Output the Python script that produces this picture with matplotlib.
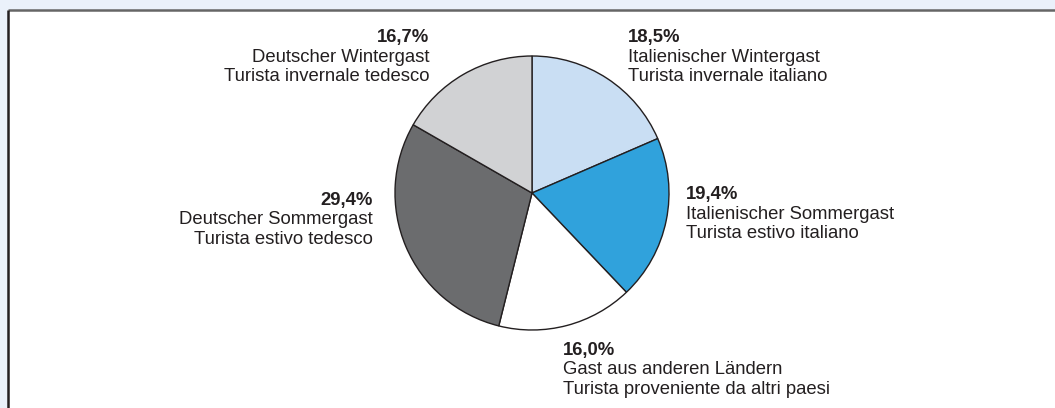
import matplotlib
matplotlib.use("Agg")
import matplotlib.pyplot as plt
from matplotlib.patches import Rectangle

plt.rcParams['font.family'] = ['Liberation Sans', 'DejaVu Sans']

# Data
categories_de = ["Italienischer Wintergast", "Italienischer Sommergast",
                 "Gast aus anderen Ländern", "Deutscher Sommergast",
                 "Deutscher Wintergast"]
categories_it = ["Turista invernale italiano", "Turista estivo italiano",
                 "Turista proveniente da altri paesi", "Turista estivo tedesco",
                 "Turista invernale tedesco"]
values = [18.5, 19.4, 16.0, 29.4, 16.7]
pct_labels = ["18,5%", "19,4%", "16,0%", "29,4%", "16,7%"]
colors = ["#C9DEF3", "#30A2DC", "#FFFFFF", "#6B6C6E", "#D1D2D4"]

W, H = 1055, 408
fig = plt.figure(figsize=(W / 100, H / 100), dpi=100, facecolor="#EAF1FA")
ax = fig.add_axes([0, 0, 1, 1])
ax.set_facecolor("none")

# white panel with border on top and left
ax.add_patch(Rectangle((8, -5), W + 10, H - 5, facecolor="white", edgecolor="none", zorder=0))
ax.plot([8, W + 10], [H - 10, H - 10], color="#666666", lw=1.8, zorder=1,
        solid_capstyle="butt")
ax.plot([8, 8], [-5, H - 10], color="#231F20", lw=1.8, zorder=1,
        solid_capstyle="butt")

cx, cy, r = 532, H - 193, 137
ax.pie(values, colors=colors, startangle=90, counterclock=False,
       center=(cx, cy), radius=r, frame=True,
       wedgeprops=dict(edgecolor="#231F20", linewidth=1.0))

ax.set_xlim(0, W)
ax.set_ylim(0, H)
ax.set_aspect("equal")
ax.axis("off")

# label anchors: (x, first baseline y in px, horizontal alignment)
anchors = [(628, 42, "left"), (686, 199.5, "left"), (563, 354.5, "left"),
           (373, 204.5, "right"), (429, 42, "right")]
fs = 13.3
step = 19.5
tc = "#231F20"
for i, (x, yb, ha) in enumerate(anchors):
    ax.text(x, H - yb, pct_labels[i], ha=ha, va="baseline", fontsize=fs,
            fontweight="bold", color=tc)
    ax.text(x, H - (yb + step), categories_de[i], ha=ha, va="baseline",
            fontsize=fs, color=tc)
    ax.text(x, H - (yb + 2 * step), categories_it[i], ha=ha, va="baseline",
            fontsize=fs, color=tc)

fig.savefig("out.png", dpi=100, facecolor=fig.get_facecolor())
